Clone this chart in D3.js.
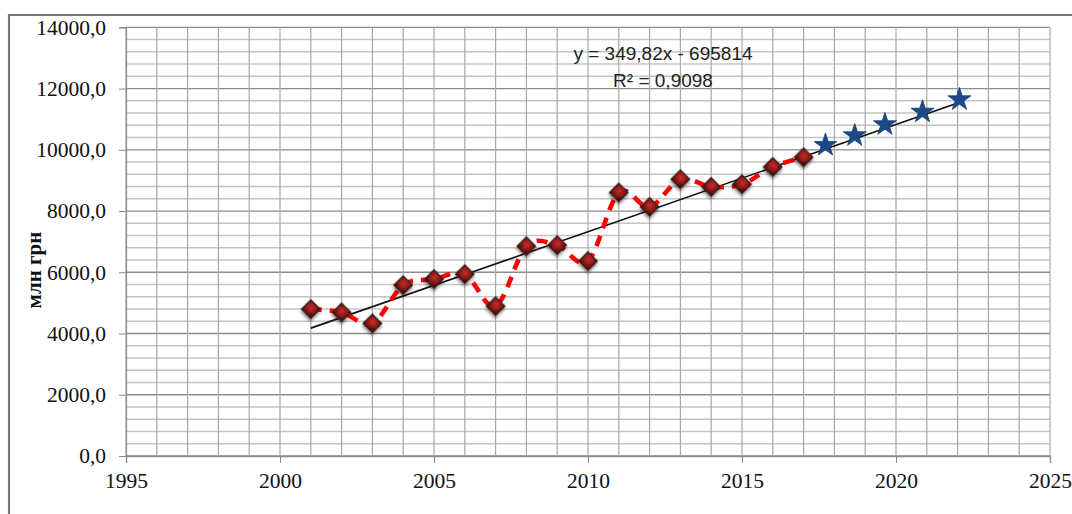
<!DOCTYPE html>
<html><head><meta charset="utf-8">
<script src="https://cdn.jsdelivr.net/npm/d3@7/dist/d3.min.js"></script>
<style>html,body{margin:0;padding:0;background:#fff;}svg{display:block;}</style>
</head><body>
<svg id="chart" width="1072" height="514"></svg>
<script>
// ---- data ----
const years = [2001,2002,2003,2004,2005,2006,2007,2008,2009,2010,2011,2012,2013,2014,2015,2016,2017];
const values = [4797,4690,4331,5580,5776,5939,4895,6853,6886,6364,8605,8136,9040,8789,8876,9441,9757];
const forecastYears = [2017.71,2018.66,2019.64,2020.86,2022.06];
const forecastValues = [10150,10465,10825,11236,11640];
const trendCoef = [349.82, -695814];
const trendRange = [2001, 2022.1];
const xTicks = [1995,2000,2005,2010,2015,2020,2025];
const yTicks = [0,2000,4000,6000,8000,10000,12000,14000];
const eqLines = ["y = 349,82x - 695814", "R² = 0,9098"];
const yTitle = "млн грн";

// ---- layout ----
const svg = d3.select("#chart");
const L = 126, R = 1050, T = 27.3, B = 456;
const x = d3.scaleLinear().domain([1995,2025]).range([L,R]);
const y = d3.scaleLinear().domain([0,14000]).range([B,T]);

const defs = svg.append("defs");
const rg = defs.append("radialGradient").attr("id","dg").attr("cx","45%").attr("cy","40%").attr("r","60%");
rg.append("stop").attr("offset","0%").attr("stop-color","#c4302c");
rg.append("stop").attr("offset","60%").attr("stop-color","#8e1c1a");
rg.append("stop").attr("offset","100%").attr("stop-color","#4e0d0c");
const f = defs.append("filter").attr("id","sh").attr("x","-50%").attr("y","-50%").attr("width","200%").attr("height","200%");
f.append("feDropShadow").attr("dx",1.5).attr("dy",2).attr("stdDeviation",1.5).attr("flood-color","#000").attr("flood-opacity",0.45);

// frame
svg.append("path").attr("d","M9,514 L9,15 L1072,15").attr("fill","none").attr("stroke","#777").attr("stroke-width",2.2);

// grid
const g = svg.append("g");
const minorY = d3.range(0,14001,400);
g.selectAll(".hm").data(minorY).join("line")
  .attr("x1",L).attr("x2",R).attr("y1",d=>y(d)).attr("y2",d=>y(d))
  .attr("stroke", d=> d%2000===0 ? "#8c8c8c" : "#c4c4c4").attr("stroke-width", d=> d%2000===0 ? 1.3 : 1.5);
g.selectAll(".vm").data(d3.range(1995,2026,1)).join("line")
  .attr("x1",d=>x(d)).attr("x2",d=>x(d)).attr("y1",T).attr("y2",B)
  .attr("stroke","#a8a8a8").attr("stroke-width",1.2);

// axes
const xAxis = svg.append("g").attr("transform",`translate(0,${B})`)
  .call(d3.axisBottom(x).tickValues(xTicks).tickSize(7).tickPadding(10).tickFormat(d3.format("d")));
xAxis.select(".domain").attr("stroke","#8c8c8c").attr("stroke-width",1.4);
xAxis.selectAll(".tick line").attr("stroke","#8c8c8c");
xAxis.selectAll("text").attr("font-family","'Liberation Serif', serif").attr("font-size",21.5).attr("fill","#111");

const fmt = v => d3.format(".1f")(v).replace(".",",");
const yAxis = svg.append("g").attr("transform",`translate(${L},0)`)
  .call(d3.axisLeft(y).tickValues(yTicks).tickSize(7).tickPadding(13).tickFormat(fmt));
yAxis.select(".domain").attr("stroke","#8c8c8c").attr("stroke-width",1.2);
yAxis.selectAll(".tick line").attr("stroke","#8c8c8c");
yAxis.selectAll("text").attr("font-family","'Liberation Serif', serif").attr("font-size",21.5).attr("fill","#111");

// y title
svg.append("text").attr("transform","translate(41,270) rotate(-90)")
  .attr("text-anchor","middle").attr("font-family","'Liberation Serif', serif")
  .attr("font-weight","bold").attr("font-size",21).attr("fill","#111").text(yTitle);

// trend line
const tr = trendRange.map(t => [t, trendCoef[0]*t + trendCoef[1]]);
svg.append("line").attr("x1",x(tr[0][0])).attr("y1",y(tr[0][1])).attr("x2",x(tr[1][0])).attr("y2",y(tr[1][1]))
  .attr("stroke","#111").attr("stroke-width",1.6);

// dashed smooth line
const pts = years.map((yr,i)=>[yr,values[i]]);
svg.append("path").datum(pts)
  .attr("d", d3.line().x(d=>x(d[0])).y(d=>y(d[1])).curve(d3.curveCatmullRom.alpha(0)))
  .attr("fill","none").attr("stroke","#ff0000").attr("stroke-width",4.6).attr("stroke-dasharray","11,8");

// diamonds
svg.selectAll(".dm").data(pts).join("rect")
  .attr("x",-6.6).attr("y",-6.6).attr("width",13.2).attr("height",13.2)
  .attr("transform",d=>`translate(${x(d[0])},${y(d[1])}) rotate(45)`)
  .attr("fill","url(#dg)").attr("stroke","#3b1e1e").attr("stroke-width",1.2).attr("filter","url(#sh)");

// stars
const fpts = forecastYears.map((yr,i)=>[yr,forecastValues[i]]);
svg.selectAll(".st").data(fpts).join("path")
  .attr("d", d3.symbol().type(d3.symbolStar).size(165))
  .attr("transform",d=>`translate(${x(d[0])},${y(d[1])})`)
  .attr("fill","#1c4a86").attr("stroke","#173e72").attr("stroke-width",0.8);

// equation
const eq = svg.append("text").attr("font-family","'Liberation Sans', Arial, sans-serif").attr("font-size",19).attr("fill","#222").attr("text-anchor","middle");
eq.append("tspan").attr("x",663).attr("y",60).text(eqLines[0]);
eq.append("tspan").attr("x",663).attr("y",87).text(eqLines[1]);
</script>
</body></html>
